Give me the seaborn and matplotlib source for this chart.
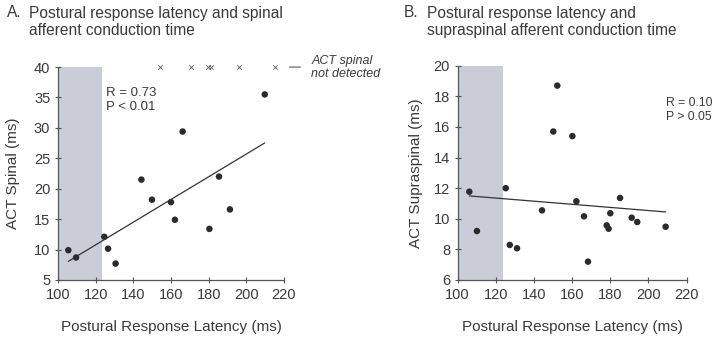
import numpy as np
import pandas as pd
import matplotlib.pyplot as plt
import seaborn as sns

# ── dados ──
spinal_lat = [105.5, 109.6, 124.6, 126.6, 130.6, 144.3, 149.9, 160.0, 162.1,
              166.2, 180.4, 185.5, 191.3, 209.8]
spinal_act = [9.9, 8.7, 12.1, 10.15, 7.7, 21.5, 18.2, 17.8, 14.9,
              29.4, 13.4, 22.0, 16.6, 35.5]
# latências sem ACT espinal detectado (marcadas no topo)
nd_lat = [154.2, 170.6, 179.8, 181.3, 196.3, 215.2]

supra_lat = [106.1, 110.1, 125.2, 127.3, 131.1, 144.2, 150.1, 152.2, 160.1,
             162.2, 166.2, 168.3, 178.1, 179.1, 180.0, 185.1, 191.2, 194.1, 209.0]
supra_act = [11.77, 9.2, 12.0, 8.29, 8.07, 10.55, 15.7, 18.7, 15.4,
             11.14, 10.16, 7.2, 9.57, 9.35, 10.36, 11.36, 10.07, 9.79, 9.48]

faixa_normal = (100, 123.5)
stats_a = 'R = 0.73\nP < 0.01'
stats_b = 'R = 0.10\nP > 0.05'

df_a = pd.DataFrame({'lat': spinal_lat, 'act': spinal_act})
df_b = pd.DataFrame({'lat': supra_lat, 'act': supra_act})
df_nd = pd.DataFrame({'lat': nd_lat, 'act': [40] * len(nd_lat)})

# ── estilo ──
sns.set_style('white')
plt.rcParams['font.family'] = ['Liberation Sans', 'DejaVu Sans']
cor_txt = '#3a3a3a'
cor_pt = '#2b2b2b'
cor_faixa = '#c9cdd8'

fig = plt.figure(figsize=(7.14, 3.38), dpi=100)
ax1 = fig.add_axes([0.0812, 0.1716, 0.3165, 0.630])
ax2 = fig.add_axes([0.641, 0.1716, 0.3207, 0.634])


def formata(ax, ylim, yticks, ylabel):
    ax.set_xlim(100, 220)
    ax.set_ylim(*ylim)
    ax.set_xticks(range(100, 221, 20))
    ax.set_yticks(yticks)
    ax.axvspan(*faixa_normal, color=cor_faixa, lw=0, zorder=0)
    sns.despine(ax=ax)
    for s in ['left', 'bottom']:
        ax.spines[s].set_color('#555555')
        ax.spines[s].set_linewidth(0.9)
    ax.tick_params(direction='inout', length=5, width=0.8, colors='#555555',
                   labelcolor=cor_txt, labelsize=10.5, pad=3,
                   bottom=True, left=True)


# ── Painel A ──
formata(ax1, (5, 40), range(5, 41, 5), 'ACT Spinal (ms)')
sns.regplot(data=df_a, x='lat', y='act', scatter=False, ci=None, truncate=True,
            line_kws={'color': '#333333', 'lw': 0.9}, ax=ax1)
sns.scatterplot(data=df_a, x='lat', y='act', color=cor_pt, s=22, edgecolor='none', ax=ax1)
ax1.scatter(df_nd['lat'], df_nd['act'], marker='x', s=10, lw=0.6, color='#555555',
            clip_on=False, zorder=5)
ax1.set_xlabel('Postural Response Latency (ms)', fontsize=11, color=cor_txt, labelpad=13)
ax1.set_ylabel('ACT Spinal (ms)', fontsize=11, color=cor_txt, labelpad=10)
ax1.text(125.5, 34.6, stats_a, fontsize=9.5, color=cor_txt, va='center', linespacing=1.3)
ax1.annotate('', xy=(221.4, 40), xytext=(230.2, 40), xycoords='data',
             arrowprops=dict(arrowstyle='-', color='#555555', lw=0.8),
             annotation_clip=False)
fig.text(0.436, 0.80, 'ACT spinal\nnot detected', fontsize=9, style='italic',
         color=cor_txt, va='center', linespacing=1.2)

# ── Painel B ──
formata(ax2, (6, 20), range(6, 21, 2), 'ACT Supraspinal (ms)')
sns.regplot(data=df_b, x='lat', y='act', scatter=False, ci=None, truncate=True,
            line_kws={'color': '#333333', 'lw': 0.9}, ax=ax2)
sns.scatterplot(data=df_b, x='lat', y='act', color=cor_pt, s=22, edgecolor='none', ax=ax2)
ax2.set_xlabel('Postural Response Latency (ms)', fontsize=11, color=cor_txt, labelpad=13)
ax2.set_ylabel('ACT Supraspinal (ms)', fontsize=11, color=cor_txt, labelpad=8)
ax2.text(209.3, 17.1, stats_b, fontsize=8.8, color=cor_txt, va='center', linespacing=1.3)

# ── títulos ──
fig.text(0.010, 0.962, 'A.', fontsize=11.2, color=cor_txt, va='center')
fig.text(0.040, 0.935, 'Postural response latency and spinal\nafferent conduction time',
         fontsize=11.2, color=cor_txt, va='center', linespacing=1.2)
fig.text(0.566, 0.962, 'B.', fontsize=11.2, color=cor_txt, va='center')
fig.text(0.598, 0.935, 'Postural response latency and\nsupraspinal afferent conduction time',
         fontsize=11.2, color=cor_txt, va='center', linespacing=1.2)

fig.savefig('out.png', dpi=100)
